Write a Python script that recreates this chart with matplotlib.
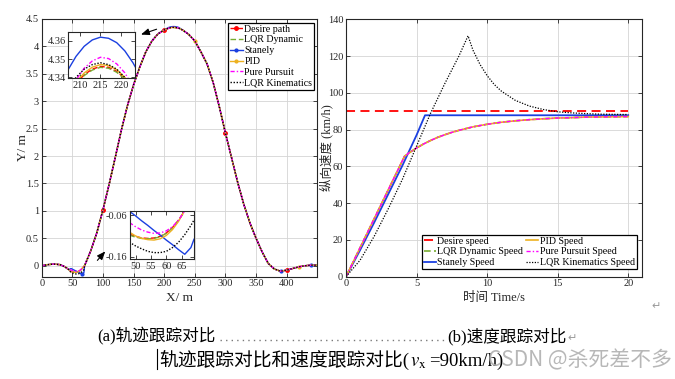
import matplotlib
matplotlib.use("Agg")
import matplotlib.pyplot as plt
from matplotlib.lines import Line2D
from matplotlib.ticker import FuncFormatter

plt.rcParams['font.family'] = ['Liberation Serif', 'Noto Sans CJK SC']
plt.rcParams['axes.unicode_minus'] = False
plt.rcParams['mathtext.fontset'] = 'stix'

# ---------------- (a) trajectory, values ----------------
X_HEAD = [0, 10, 20, 30, 38, 44]
Y_HEAD = [0.00, 0.02, 0.03, 0.02, -0.02, -0.07]

# dip region (also the lower inset)
X_DIP = [48, 50, 52, 54, 56, 58, 60, 62, 64, 66, 68, 69]
DIP_DESIRE = [-0.106, -0.111, -0.115, -0.116, -0.115, -0.111, -0.103, -0.090, -0.072, -0.050, -0.026, -0.015]
DIP_LQR_DYN = [-0.108, -0.113, -0.116, -0.117, -0.116, -0.112, -0.104, -0.091, -0.073, -0.050, -0.025, -0.014]
DIP_STANLEY = [-0.051, -0.062, -0.074, -0.085, -0.097, -0.108, -0.120, -0.131, -0.143, -0.154, -0.138, -0.118]
DIP_PID = [-0.101, -0.110, -0.116, -0.119, -0.120, -0.117, -0.109, -0.095, -0.075, -0.048, -0.020, -0.008]
DIP_PP = [-0.078, -0.088, -0.096, -0.101, -0.104, -0.103, -0.098, -0.088, -0.072, -0.050, -0.030, -0.020]
DIP_LQR_KIN = [-0.125, -0.134, -0.141, -0.147, -0.150, -0.150, -0.147, -0.138, -0.125, -0.107, -0.085, -0.072]

X_MID = [70, 80, 90, 100, 110, 120, 130, 140, 150, 160, 170, 180, 190, 200]
Y_MID = [0.00, 0.27, 0.60, 1.02, 1.48, 1.97, 2.47, 2.92, 3.30, 3.62, 3.90, 4.10, 4.23, 4.30]

# peak region (also the upper inset)
X_TOP = [207, 209, 211, 213, 215, 217, 219, 221, 223, 224]
TOP_DESIRE = [4.3300, 4.3365, 4.3415, 4.3445, 4.3460, 4.3455, 4.3433, 4.3395, 4.3335, 4.3300]
TOP_LQR_DYN = [4.3298, 4.3360, 4.3410, 4.3440, 4.3455, 4.3450, 4.3428, 4.3390, 4.3330, 4.3295]
TOP_STANLEY = [4.3440, 4.3515, 4.3570, 4.3605, 4.3620, 4.3614, 4.3590, 4.3545, 4.3480, 4.3440]
TOP_PID = [4.3306, 4.3374, 4.3424, 4.3456, 4.3470, 4.3465, 4.3442, 4.3400, 4.3340, 4.3305]
TOP_PP = [4.3300, 4.3386, 4.3450, 4.3490, 4.3510, 4.3503, 4.3474, 4.3425, 4.3350, 4.3310]
TOP_LQR_KIN = [4.3340, 4.3400, 4.3445, 4.3470, 4.3480, 4.3470, 4.3445, 4.3400, 4.3340, 4.3300]

X_TAIL = [230, 240, 250, 260, 270, 280, 290, 300, 310, 320, 330, 340, 350,
          360, 370, 380, 390, 400, 410, 420, 430, 440, 450]
Y_TAIL = [4.30, 4.22, 4.10, 3.90, 3.68, 3.34, 2.90, 2.42, 1.97, 1.52, 1.12, 0.78, 0.50,
          0.25, 0.04, -0.06, -0.10, -0.08, -0.05, -0.02, 0.00, 0.01, 0.01]

# ---------------- (b) speed, values ----------------
T_DESIRE = [0, 20]
V_DESIRE = [90, 90]
T_STANLEY = [0, 1, 2, 3, 4, 5, 5.6, 20]
V_STANLEY = [0, 14.5, 29.5, 45, 60.5, 77, 87.8, 87.8]
T_PID = [0, 4.15, 4.5, 5, 5.5, 6, 6.5, 7, 7.5, 8, 9, 10, 11, 12, 13, 14, 15, 16, 17, 18, 19, 20]
V_PID = [0, 65.5, 67.5, 70.0, 72.2, 74.1, 75.8, 77.2, 78.5, 79.6, 81.5, 82.9, 84.0, 84.8,
         85.4, 85.9, 86.3, 86.5, 86.8, 86.9, 87.0, 87.1]
T_LQR_KIN = [0, 1, 2, 3, 4, 5, 6, 7, 8, 8.65, 9, 9.5, 10, 10.5, 11, 12, 13, 14, 15, 16, 17, 18, 20]
V_LQR_KIN = [0, 9, 22, 37, 53, 71, 89, 105, 120, 131, 123.2, 115.4, 109.4, 104.6, 101.0,
             95.9, 92.8, 90.9, 89.7, 89.1, 88.7, 88.4, 88.2]

RED, GREEN, BLUE = "#ff0000", "#77ac30", "#1a3fe0"
ORANGE, MAGENTA, BLACK = "#edb120", "#ff00ff", "#000000"
INK = "#262626"
W, H = 675, 379


def frac(x, y):
    return x / W, 1 - y / H


def style(ax, fs=7.5, grid=True):
    ax.tick_params(direction="in", top=True, right=True, length=3, width=0.6,
                   labelsize=fs, colors=INK, pad=2)
    for s in ax.spines.values():
        s.set_linewidth(0.8)
        s.set_color(INK)
    if grid:
        ax.grid(True, color="#d4d4d4", lw=0.6)
        ax.set_axisbelow(True)


def gfmt(v, _):
    return f"{v:g}"


def boxed_legend(ax, **kw):
    leg = ax.legend(fontsize=7.2, handletextpad=0.15, labelspacing=0.18, borderpad=0.2,
                    borderaxespad=0.0, fancybox=False, framealpha=1, **kw)
    leg.get_frame().set_edgecolor(BLACK)
    leg.get_frame().set_linewidth(0.9)
    return leg


fig = plt.figure(figsize=(6.75, 3.79), dpi=100)

X_PATH = X_HEAD + X_DIP + X_MID + X_TOP + X_TAIL


def path(dip, top):
    return Y_HEAD + dip + Y_MID + top + Y_TAIL


def marks(xs):
    return [i for i, x in enumerate(X_PATH) if x in xs]


series = [
    ("Desire path", DIP_DESIRE, TOP_DESIRE, dict(color=RED, ls="--", marker=".", ms=5,
                                                 markevery=marks([100, 200, 300, 400]))),
    ("LQR Dynamic", DIP_LQR_DYN, TOP_LQR_DYN, dict(color=GREEN, ls=(0, (4, 2)))),
    ("Stanely", DIP_STANLEY, TOP_STANLEY, dict(color=BLUE, ls="-", marker=".", ms=4,
                                               markevery=marks([66, 390, 440]))),
    ("PID", DIP_PID, TOP_PID, dict(color=ORANGE, ls="-", marker=".", ms=4,
                                   markevery=marks([250, 420]))),
    ("Pure Pursuit", DIP_PP, TOP_PP, dict(color=MAGENTA, ls=(0, (3, 1.5, 1, 1.5)))),
    ("LQR Kinematics", DIP_LQR_KIN, TOP_LQR_KIN, dict(color=BLACK, ls=(0, (1, 1.2)))),
]

# ---- left axes ----
axl = fig.add_axes([41.7 / W, 1 - 276.7 / H, 275.6 / W, 257.7 / H])
for name, dip, top, kw in series:
    axl.plot(X_PATH, path(dip, top), lw=1.0, label=name, **kw)
axl.set_xlim(0, 450)
axl.set_ylim(-0.2, 4.5)
axl.set_xticks(range(0, 401, 50))
axl.set_yticks([0, 0.5, 1, 1.5, 2, 2.5, 3, 3.5, 4, 4.5])
axl.yaxis.set_major_formatter(FuncFormatter(gfmt))
style(axl)
axl.set_xlabel("X/ m", fontsize=9.5, color=INK, labelpad=2.5)
axl.set_ylabel("Y/ m", fontsize=9.5, color=INK, labelpad=-2)
boxed_legend(axl, loc="upper right", bbox_to_anchor=(0.989, 0.986), handlelength=1.3)

axl.annotate("", xy=(157.8, 4.20), xytext=(191.9, 4.33),
             arrowprops=dict(arrowstyle="-|>,head_length=0.5,head_width=0.2", color=BLACK, lw=0.8))
axl.annotate("", xy=(106.8, 0.30), xytext=(87.9, 0.06),
             arrowprops=dict(arrowstyle="-|>,head_length=0.5,head_width=0.2", color=BLACK, lw=0.8))

# ---- upper inset ----
axt = fig.add_axes([68.3 / W, 1 - 78.3 / H, 66.7 / W, 46.6 / H])
for name, dip, top, kw in series:
    kw2 = {k: v for k, v in kw.items() if k not in ("marker", "ms", "markevery")}
    axt.plot(X_TOP, top, lw=1.0, **kw2)
axt.set_xlim(207.1, 223.5)
axt.set_ylim(4.3395, 4.365)
axt.set_xticks([210, 215, 220])
axt.set_yticks([4.34, 4.35, 4.36])
axt.yaxis.set_major_formatter(FuncFormatter(gfmt))
style(axt, grid=False)

# ---- lower inset ----
axb = fig.add_axes([130 / W, 1 - 259.3 / H, 64.3 / W, 48.6 / H])
for name, dip, top, kw in series:
    kw2 = {k: v for k, v in kw.items() if k not in ("marker", "ms", "markevery")}
    axb.plot(X_DIP, dip, lw=1.0, **kw2)
axb.set_xlim(48.2, 69.1)
axb.set_ylim(-0.166, -0.0497)
axb.set_xticks([50, 55, 60, 65])
axb.set_yticks([-0.16, -0.06])
axb.yaxis.set_major_formatter(FuncFormatter(lambda v, _: f"{v:.2f}"))
style(axb, grid=False)

# ---- right axes ----
axr = fig.add_axes([346 / W, 1 - 276.7 / H, 296.3 / W, 257.4 / H])
axr.plot(T_DESIRE, V_DESIRE, color=RED, ls=(0, (5, 3)), lw=1.3, label="Desire speed")
axr.plot(T_PID, V_PID, color=GREEN, ls=(0, (4, 2)), lw=1.2, label="LQR Dynamic Speed")
axr.plot(T_STANLEY, V_STANLEY, color=BLUE, lw=1.3, label="Stanely Speed")
axr.plot(T_PID, V_PID, color=ORANGE, lw=1.2, label="PID Speed")
axr.plot(T_PID, V_PID, color=MAGENTA, ls=(0, (3, 1.5, 1, 1.5)), lw=1.0, label="Pure Pursuit Speed")
axr.plot(T_LQR_KIN, V_LQR_KIN, color=BLACK, ls=(0, (1, 1.2)), lw=0.9, label="LQR Kinematics Speed")
axr.set_xlim(0, 21)
axr.set_ylim(0, 140)
axr.set_xticks([0, 5, 10, 15, 20])
axr.set_yticks(range(0, 141, 20))
style(axr)
axr.set_xlabel("时间 Time/s", fontsize=9, color=INK, labelpad=2.5)
axr.set_ylabel("纵向速度 (km/h)", fontsize=9, color=INK, labelpad=-4)
boxed_legend(axr, loc="lower right", bbox_to_anchor=(0.981, 0.029), ncol=2,
             handlelength=1.2, columnspacing=0.3)

# ---- document captions ----
CJK = ['Liberation Serif', 'Noto Sans CJK SC']
renderer = fig.canvas.get_renderer()


def put(x, y, s, **kw):
    t = fig.text(*frac(x, y), s, ha="left", va="baseline", **kw)
    bb = t.get_window_extent(renderer)
    return bb.x1


fig.text(*frac(656, 306), "\u21b5", ha="center", va="center", color="#9a9a9a",
         fontsize=8, family="DejaVu Sans")

put(97, 341, "(a)轨迹跟踪对比", fontsize=12, family=CJK, color="black")
fig.add_artist(Line2D([220 / W, 444 / W], [1 - 340 / H] * 2, transform=fig.transFigure,
                      color="#7a7a7a", lw=1.0, ls=(0, (1, 3))))
x_end = put(447, 341, "(b)速度跟踪对比", fontsize=12, family=CJK, color="black")
fig.text(x_end / W + 0.002, 1 - 341 / H, "\u21b5", ha="left", va="baseline", color="#9a9a9a",
         fontsize=8, family="DejaVu Sans")

fig.add_artist(Line2D([157 / W] * 2, [1 - 349 / H, 1 - 369 / H], transform=fig.transFigure,
                      color="black", lw=0.8))
x1 = put(159, 366, "轨迹跟踪对比和速度跟踪对比(", fontsize=13.5, family=CJK, color="black")
x2 = put(x1 + 1, 366, r"$v_{\mathrm{x}}$", fontsize=13.5, color="black")
put(x2 + 2, 366, "=90km/h)", fontsize=13.5, family=CJK, color="black")

fig.text(*frac(672, 366), "CSDN @杀死差不多", ha="right", va="baseline", fontsize=15,
         family=['Noto Sans CJK SC'], color="#b0b0b0", alpha=0.9)

fig.savefig("out.png", dpi=100)
